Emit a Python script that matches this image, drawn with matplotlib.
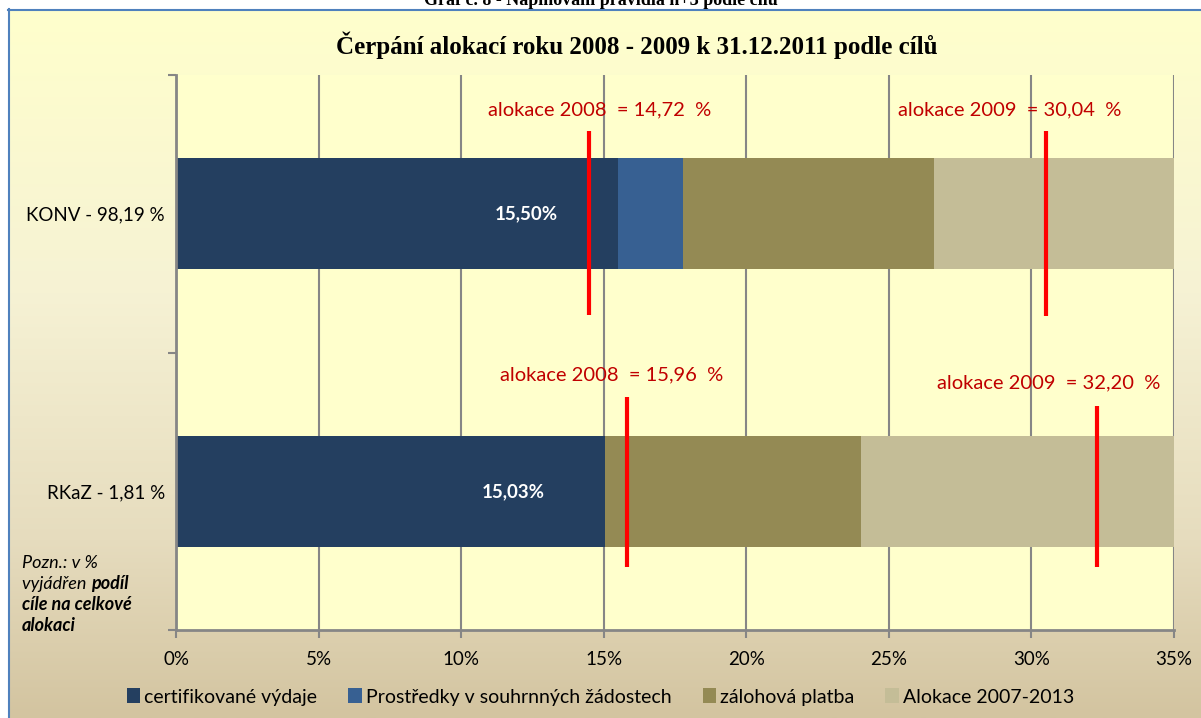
import numpy as np
import matplotlib.pyplot as plt
from matplotlib.colors import LinearSegmentedColormap
from matplotlib.patches import Patch
from matplotlib.lines import Line2D

# data
categories = ["KONV - 98,19 %", "RKaZ - 1,81 %"]
certifikovane = [15.50, 15.03]
prostredky = [2.28, 0.0]
zalohova = [8.81, 9.00]
alokace_0713 = [8.45, 11.0]          # clipped at 35 %
alok_2008 = ["14,72", "15,96"]
alok_2009 = ["30,04", "32,20"]
line_2008 = [14.5, 15.8]             # where the red markers were drawn
line_2009 = [30.5, 32.3]
xticks = [0, 5, 10, 15, 20, 25, 30, 35]

series_names = ["certifikované výdaje", "Prostředky v souhrnných žádostech",
                "zálohová platba", "Alokace 2007-2013"]
colors = ["#243F60", "#376092", "#948A54", "#C4BD97"]

plt.rcParams['font.family'] = ['Lato', 'DejaVu Sans']

W, H = 1201, 718
fig = plt.figure(figsize=(W / 100, H / 100), dpi=100)
fig.patch.set_facecolor("white")

# chart area background gradient
bg = fig.add_axes([8 / W, 0, 1 - 8 / W, 1 - 9 / H], zorder=-10)
cmap = LinearSegmentedColormap.from_list(
    "bg", [(0, "#FFFFCC"), (0.4, "#F6F2D4"), (0.75, "#E6DCBE"), (1, "#D3C4A0")])
bg.imshow(np.linspace(0, 1, 256)[:, None], aspect="auto", cmap=cmap,
          extent=[0, 1, 0, 1], origin="upper")
bg.axis("off")
fig.add_artist(Line2D([8.5 / W, 8.5 / W], [0, 1 - 9 / H], color="#4F81BD", lw=1.5))
fig.add_artist(Line2D([8 / W, 1], [1 - 9.5 / H, 1 - 9.5 / H], color="#4F81BD", lw=1.5))

# header of the page, cut off by the crop like in the source
fig.text(0.5, 1 - 5 / H, "Graf č. 8 - Naplňování pravidla n+3 podle cílů",
         ha="center", va="baseline", fontsize=13, fontweight="bold",
         family="Liberation Serif")

fig.text(0.53, 1 - 45 / H, "Čerpání alokací roku 2008 - 2009 k 31.12.2011 podle cílů",
         ha="center", va="center", fontsize=18, fontweight="bold",
         family="Liberation Serif")

ax = fig.add_axes([176 / W, 1 - 630 / H, (1174 - 176) / W, (630 - 75) / H])
ax.set_facecolor("#FFFFCC")

y = np.arange(len(categories))
left = np.zeros(len(categories))
for vals, c in zip([certifikovane, prostredky, zalohova, alokace_0713], colors):
    ax.barh(y, vals, left=left, height=0.4, color=c, zorder=3)
    left = left + np.array(vals)

# value labels on first series
for yi, v in zip(y, certifikovane):
    ax.text(v - 3.2, yi, f"{v:.2f}%".replace(".", ","), ha="center", va="center",
            color="white", fontsize=13.5, fontweight="bold", zorder=5)

# red markers of 2008 / 2009 allocation
red_text = "#C00000"
ax.vlines(line_2008[0], -0.30, 0.365, color="red", lw=3, zorder=6)
ax.vlines(line_2009[0], -0.30, 0.37, color="red", lw=3, zorder=6)
ax.vlines(line_2008[1], 0.66, 1.273, color="red", lw=3, zorder=6)
ax.vlines(line_2009[1], 0.693, 1.273, color="red", lw=3, zorder=6)
ax.text(14.87, -0.374, f"alokace 2008  = {alok_2008[0]}  %", ha="center", va="center",
        color=red_text, fontsize=14.5, zorder=6)
ax.text(29.25, -0.374, f"alokace 2009  = {alok_2009[0]}  %", ha="center", va="center",
        color=red_text, fontsize=14.5, zorder=6)
ax.text(15.29, 0.581, f"alokace 2008  = {alok_2008[1]}  %", ha="center", va="center",
        color=red_text, fontsize=14.5, zorder=6)
ax.text(30.59, 0.610, f"alokace 2009  = {alok_2009[1]}  %", ha="center", va="center",
        color=red_text, fontsize=14.5, zorder=6)

ax.set_xlim(0, 35)
ax.set_ylim(1.5, -0.5)
ax.set_xticks(xticks)
ax.set_xticklabels([f"{t}%" for t in xticks], fontsize=13.5)
ax.set_yticks(y)
ax.set_yticklabels(categories, fontsize=13.5)
ax.set_yticks([-0.5, 0.5, 1.5], minor=True)
ax.tick_params(axis="y", which="major", length=0, pad=8)
ax.tick_params(axis="y", which="minor", length=6, color="#868686", width=1.5)
ax.tick_params(axis="x", length=6, color="#868686", width=1.5, pad=9)
ax.grid(axis="x", color="#868686", lw=1.5, zorder=1)
for s in ["top", "right"]:
    ax.spines[s].set_visible(False)
for s in ["left", "bottom"]:
    ax.spines[s].set_color("#868686")
    ax.spines[s].set_linewidth(2)
    ax.spines[s].set_zorder(4)

# note at the lower left, mixed italic / bold italic
renderer = fig.canvas.get_renderer()
note_lines = [[("Pozn.: v %", "normal")],
              [("vyjádřen ", "normal"), ("podíl", "bold")],
              [("cíle na celkové", "bold")],
              [("alokaci", "bold")]]
for i, parts in enumerate(note_lines):
    x0 = 22 / W
    yy = 1 - (563 + i * 20.7) / H
    for txt, wt in parts:
        t = fig.text(x0, yy, txt, ha="left", va="center", fontsize=13,
                     style="italic", fontweight=wt)
        bb = t.get_window_extent(renderer)
        x0 = bb.x1 / W

handles = [Patch(facecolor=c) for c in colors]
fig.legend(handles, series_names, loc="center", bbox_to_anchor=(0.50, 1 - 697 / H),
           ncol=4, frameon=False, fontsize=14, handlelength=0.7, handleheight=0.8,
           handletextpad=0.2, columnspacing=1.6)

fig.savefig("out.png", dpi=100)
